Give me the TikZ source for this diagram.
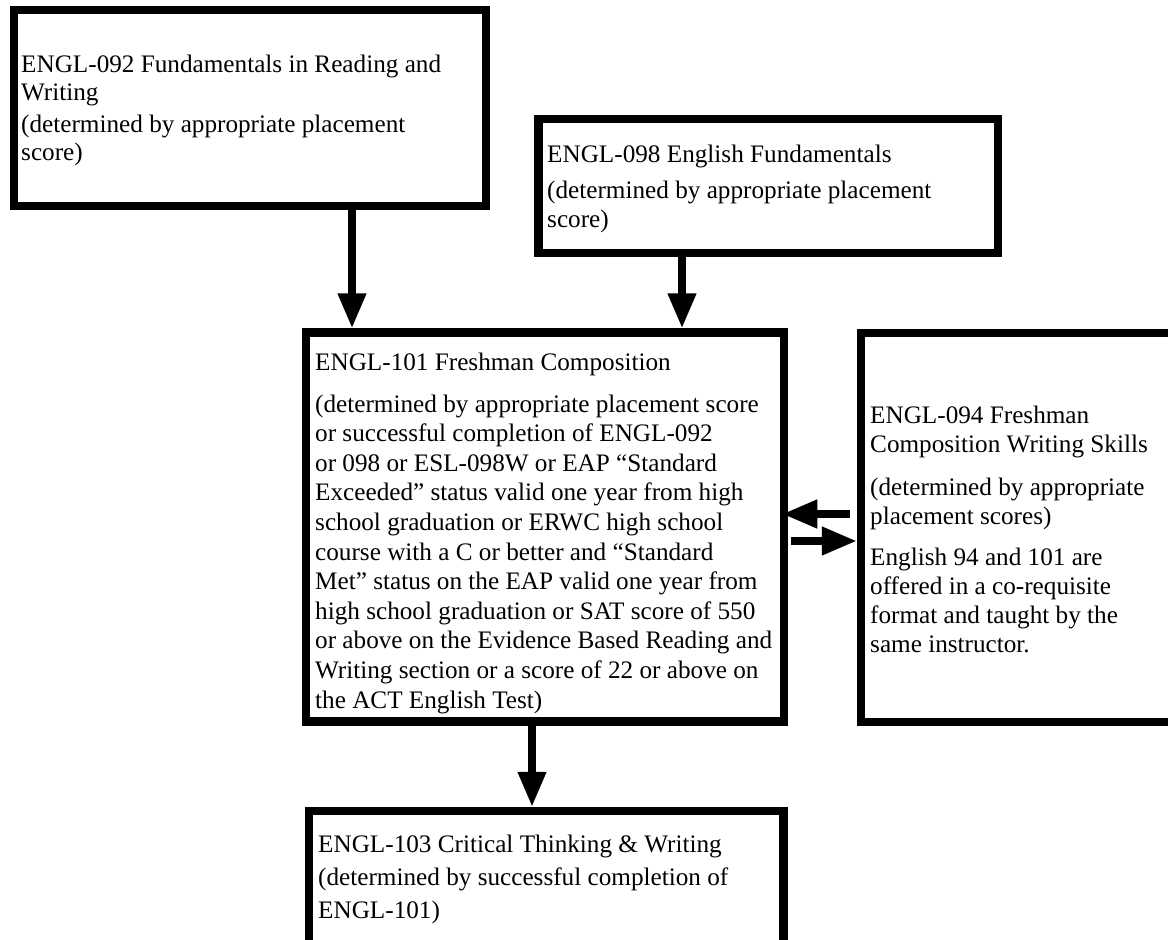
\documentclass[tikz,border=0pt]{standalone}
\usepackage{fontspec}
\setmainfont{Liberation Serif}
\usetikzlibrary{arrows.meta}
\begin{document}
\begin{tikzpicture}[x=1pt,y=-1pt,
  box/.style={draw=black, line width=8.5pt, fill=white, inner sep=0pt},
  txt/.style={anchor=base west, inner sep=0pt, font=\fontsize{25.2}{29}\selectfont},
  arr/.style={line width=7.5pt, -{Triangle[length=35pt,width=27pt]}}]
\clip (0,0) rectangle (1168,940);
\fill[white] (0,0) rectangle (1168,940);
% boxes
\node[box, minimum width=472pt, minimum height=196pt] (b092) at (250,108) {};
\node[box, minimum width=459.5pt, minimum height=134pt] (b098) at (768.25,186) {};
\node[box, minimum width=478pt, minimum height=389pt] (b101) at (545,527) {};
\node[box, minimum width=324pt, minimum height=389pt] (b094) at (1023,527.5) {};
\node[box, minimum width=474.5pt, minimum height=169pt] (b103) at (546.25,895.5) {};
% texts
\node[txt] (t092) at (21,72) {\baselineskip=28pt\vtop{%
  \hbox{ENGL-092 Fundamentals in Reading and}
  \hbox{Writing}\vskip4pt
  \hbox{(determined by appropriate placement}
  \hbox{score)}}};
\node[txt] (t098) at (547,162) {\vtop{%
  \hbox{ENGL-098 English Fundamentals}\vskip7pt
  \hbox{(determined by appropriate placement}
  \hbox{score)}}};
\node[txt] (t101) at (315,370) {\baselineskip=29.6pt\vtop{%
  \hbox{ENGL-101 Freshman Composition}\vskip12.4pt
  \hbox{(determined by appropriate placement score}
  \hbox{or successful completion of ENGL-092}
  \hbox{or 098 or ESL-098W or EAP “Standard}
  \hbox{Exceeded” status valid one year from high}
  \hbox{school graduation or ERWC high school}
  \hbox{course with a C or better and “Standard}
  \hbox{Met” status on the EAP valid one year from}
  \hbox{high school graduation or SAT score of 550}
  \hbox{or above on the Evidence Based Reading and}
  \hbox{Writing section or a score of 22 or above on}
  \hbox{the ACT English Test)}}};
\node[txt] (t094) at (870,423) {\vtop{%
  \hbox{ENGL-094 Freshman}
  \hbox{Composition Writing Skills}\vskip14pt
  \hbox{(determined by appropriate}
  \hbox{placement scores)}\vskip12pt
  \hbox{English 94 and 101 are}
  \hbox{offered in a co-requisite}
  \hbox{format and taught by the}
  \hbox{same instructor.}}};
\node[txt] (t103) at (318,852) {\baselineskip=33pt\vtop{%
  \hbox{ENGL-103 Critical Thinking \& Writing}
  \hbox{(determined by successful completion of}
  \hbox{ENGL-101)}}};
% connector coordinates
\coordinate (xa) at (352,0);
\coordinate (xb) at (682,0);
\coordinate (xc) at (532,0);
\coordinate (yl) at (0,514);
\coordinate (yr) at (0,541);
% arrows
\draw[arr] (b092.south -| xa) -- (b101.north -| xa);
\draw[arr] (b098.south -| xb) -- (b101.north -| xb);
\draw[arr] (b101.south -| xc) -- (b103.north -| xc);
\draw[arr] ([xshift=-7pt]b094.west |- yl) -- ([xshift=-6pt]b101.east |- yl);
\draw[arr] ([xshift=3pt]b101.east |- yr) -- (b094.west |- yr);
\end{tikzpicture}
\end{document}
